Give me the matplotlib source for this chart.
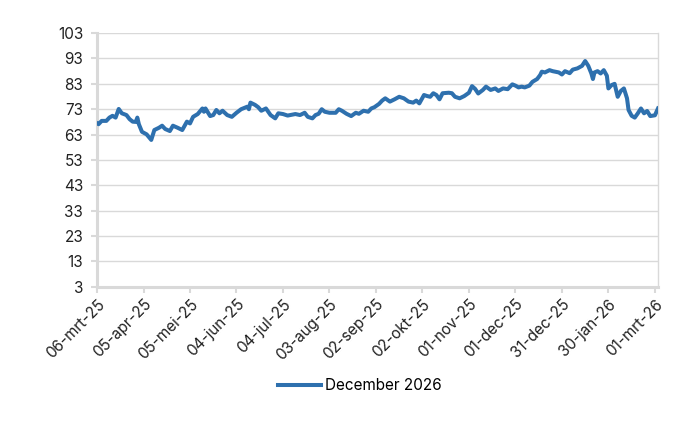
import datetime as dt
import matplotlib
matplotlib.use("Agg")
import matplotlib.pyplot as plt

plt.rcParams["font.family"] = ["Inter", "DejaVu Sans"]

start = dt.date(2025, 3, 6)

# days since 06-mrt-25 and value
days = [0, 1, 3, 6, 8, 10, 12, 14, 16, 19, 21, 23, 25, 26, 27, 29, 32, 35, 37, 40,
        42, 44, 47, 49, 52, 55, 58, 60, 62, 65, 68, 69, 70, 73, 75, 77, 79, 81, 84, 87,
        90, 93, 97, 98, 99, 102, 104, 106, 109, 112, 115, 117, 120, 123, 128, 131, 134, 136, 139, 141,
        143, 145, 147, 150, 154, 156, 158, 161, 164, 167, 169, 172, 175, 177, 179, 182, 184, 186, 189, 192,
        195, 198, 201, 204, 206, 208, 211, 213, 215, 217, 219, 221, 223, 227, 229, 231, 234, 237, 240, 242,
        244, 246, 249, 251, 254, 257, 259, 262, 265, 268, 270, 272, 274, 276, 279, 281, 284, 286, 287, 289,
        292, 294, 298, 300, 302, 305, 307, 310, 313, 315, 317, 319, 320, 321, 323, 325, 327, 329, 330, 332,
        334, 336, 338, 340, 342, 343, 345, 347, 349, 351, 353, 355, 357, 360, 362]
values = [67.5, 67.1, 68.4, 68.4, 69.7, 70.4, 69.7, 73.1, 71.4, 70.7, 69.1, 68.1, 68.0, 69.7, 67.1, 64.1, 63.1, 60.9, 64.8, 65.7,
          66.5, 65.2, 64.4, 66.5, 65.7, 64.8, 68.1, 67.4, 70.0, 71.1, 73.3, 72.0, 73.3, 70.3, 70.7, 72.7, 71.4, 72.4, 70.7, 70.0,
          71.6, 73.0, 74.0, 73.0, 75.6, 74.7, 73.8, 72.4, 73.3, 70.7, 69.4, 71.4, 71.1, 70.5, 71.1, 70.7, 71.6, 70.0, 69.4, 70.7,
          71.2, 73.0, 72.0, 71.6, 71.6, 73.0, 72.4, 71.2, 70.3, 71.6, 71.2, 72.4, 72.0, 73.3, 73.8, 75.1, 76.4, 77.3, 76.0, 76.9,
          77.9, 77.3, 76.0, 75.6, 76.4, 75.3, 78.6, 78.2, 77.9, 79.3, 78.6, 76.9, 79.3, 79.5, 79.3, 77.9, 77.3, 78.2, 79.5, 82.1,
          81.0, 79.2, 80.6, 81.9, 80.6, 81.2, 80.2, 81.2, 80.9, 82.8, 82.3, 81.6, 81.9, 81.6, 82.3, 83.8, 84.9, 86.5, 87.8, 87.5,
          88.4, 88.0, 87.5, 86.7, 88.0, 87.2, 88.6, 89.1, 90.1, 92.0, 90.1, 87.1, 84.9, 87.5, 88.0, 87.1, 88.4, 86.2, 81.2, 82.5,
          83.0, 77.9, 80.2, 81.2, 77.3, 72.7, 70.4, 69.7, 71.4, 73.3, 71.4, 72.3, 70.3, 70.6, 73.3]

tick_days = [0, 30, 60, 90, 120, 150, 180, 210, 240, 270, 300, 330, 360]
tick_labels = ["06-mrt-25", "05-apr-25", "05-mei-25", "04-jun-25", "04-jul-25", "03-aug-25",
               "02-sep-25", "02-okt-25", "01-nov-25", "01-dec-25", "31-dec-25", "30-jan-26", "01-mrt-26"]
y_ticks = list(range(3, 104, 10))

dates = [start + dt.timedelta(days=d) for d in days]
tick_dates = [start + dt.timedelta(days=d) for d in tick_days]

fig = plt.figure(figsize=(7, 4.3), dpi=100)
ax = fig.add_axes([0.1386, 0.333, 0.8014, 0.590])

grid_col = "#d9d9d9"
ax.plot(dates, values, color="#2e70ae", lw=2.9, solid_joinstyle="round",
        label="December 2026", zorder=3)

ax.set_xlim(start, start + dt.timedelta(days=362))
ax.set_ylim(3, 103)
ax.set_yticks(y_ticks)
ax.set_xticks(tick_dates)
ax.set_xticklabels(tick_labels, rotation=45, ha="right", rotation_mode="anchor")
ax.yaxis.grid(True, color=grid_col, lw=1)
ax.set_axisbelow(True)

for side in ["left", "bottom"]:
    ax.spines[side].set_color(grid_col)
    ax.spines[side].set_linewidth(2.2)
ax.spines["right"].set_color(grid_col)
ax.spines["right"].set_linewidth(1)
ax.spines["top"].set_visible(False)

ax.tick_params(axis="both", colors=grid_col, length=4, width=1.5, labelsize=11,
               labelcolor="#222222", pad=3)
ax.tick_params(axis="y", pad=6)

ax.legend(loc="center", bbox_to_anchor=(0.469, -0.39), frameon=False,
          fontsize=11, handlelength=2.8, handletextpad=0.3, borderaxespad=0)

fig.savefig("out.png", dpi=100)
